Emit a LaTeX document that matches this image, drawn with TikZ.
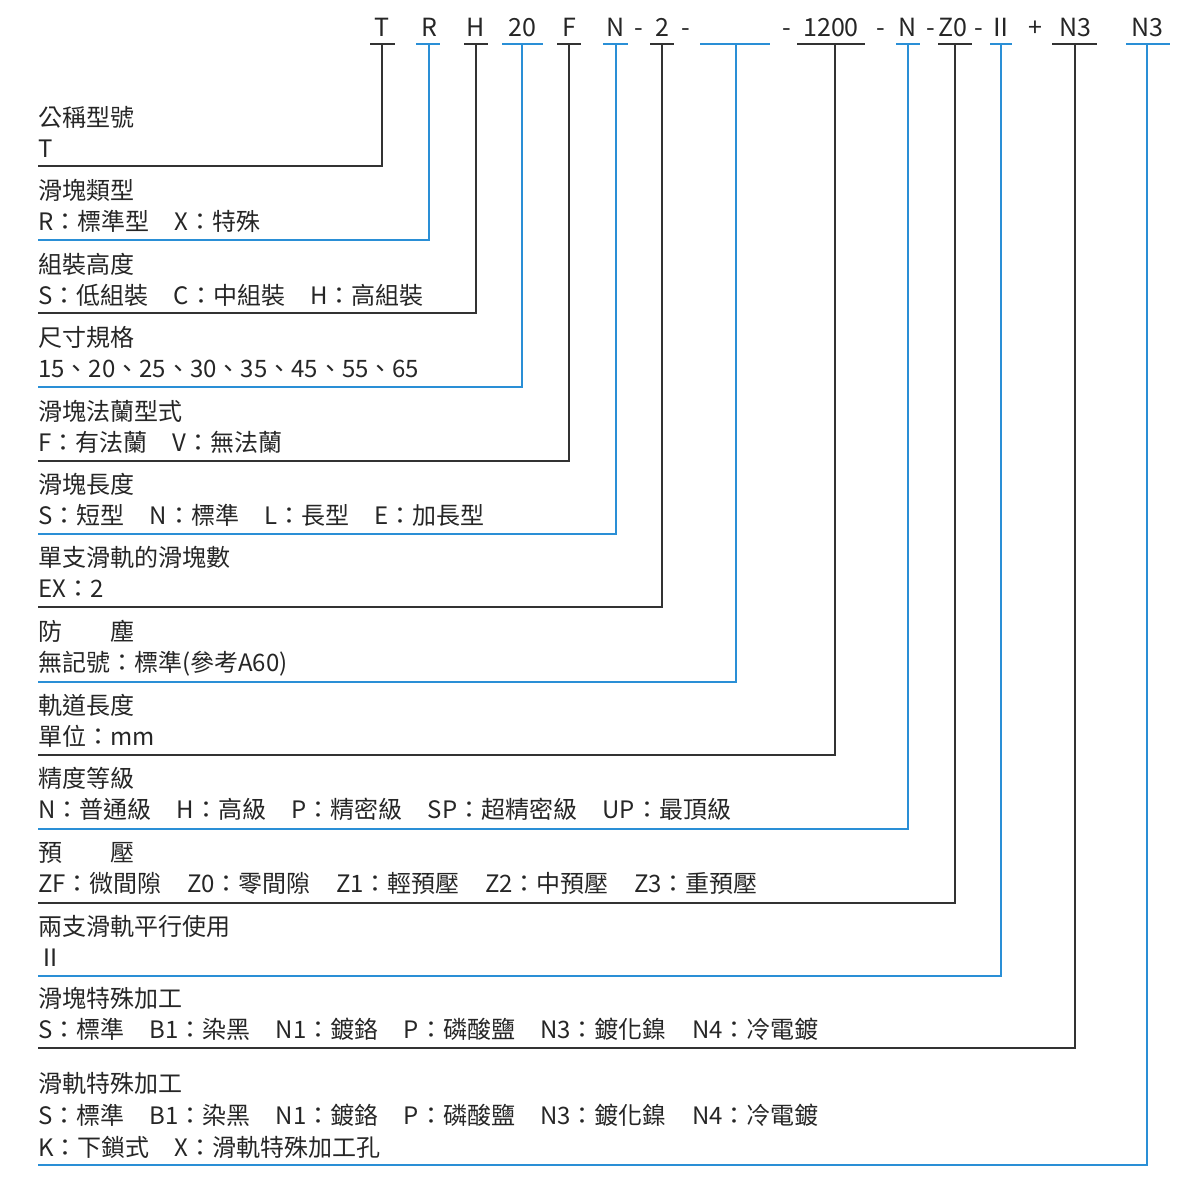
\documentclass[tikz,border=0pt]{standalone}
\usepackage{fontspec}
\setmainfont{Noto Sans CJK TC}
\begin{document}
\begin{tikzpicture}[x=1pt,y=-1pt,
  txt/.style={anchor=base west,inner sep=0pt,font=\fontsize{24}{26}\selectfont,text=black!85},
  code/.style={anchor=base,inner sep=0pt,font=\fontsize{25}{28}\selectfont,text=black!85},
  bk/.style={draw=black!80,line width=1.3pt},
  bl/.style={draw=lineblue,line width=1.3pt}]
\definecolor{lineblue}{HTML}{2A8FD6}
\useasboundingbox (0,0) rectangle (1188,1200);
\newcommand{\gp}{\hspace{1.05em}}
% top codes
\foreach \x/\t in {382/T,429/R,476/H,522/20,569/F,616/N,639/-,662/2,686/-,787/-,831/1200,881/-,908/N,931/-,953/Z0,979/-,1001/Ⅱ,1035/+,1075/N3,1147/N3}
  \node[code] at (\x,36) {\t};
% groups: x, left, right, y, style
\foreach \n/\x/\l/\r/\y/\s in {a/382/370/395/166/bk,b/429/416/440/240/bl,c/476/464/488/313/bk,d/522/502/543/387/bl,e/569/557/581/461/bk,f/616/603/628/534/bl,g/662/650/674/607/bk,h/736/700/770/682/bl,i/835/797/865/755/bk,j/908/896/920/829/bl,k/955/938/972/903/bk,l/1001/990/1012/976/bl,m/1075/1052/1097/1048/bk,o/1147/1126/1170/1165/bl}{
  \coordinate (u\n) at (\x,44);
  \coordinate (c\n) at (\x,\y);
  \coordinate (e\n) at (38,\y);
  \draw[\s] (\l,44) -- (\r,44);
  \draw[\s] (u\n) -- (c\n) -- (e\n);
}
\node[txt] (t1) at (38,126) {公稱型號};
\node[txt] (t1b) at (38,157) {T};
\node[txt] (t2) at (38,199) {滑塊類型};
\node[txt] (t2b) at (38,230) {R：標準型\gp X：特殊};
\node[txt] (t3) at (38,273) {組裝高度};
\node[txt] (t3b) at (38,304) {S：低組裝\gp C：中組裝\gp H：高組裝};
\node[txt] (t4) at (38,346) {尺寸規格};
\node[txt] (t4b) at (38,377) {15、20、25、30、35、45、55、65};
\node[txt] (t5) at (38,420) {滑塊法蘭型式};
\node[txt] (t5b) at (38,451) {F：有法蘭\gp V：無法蘭};
\node[txt] (t6) at (38,493) {滑塊長度};
\node[txt] (t6b) at (38,524) {S：短型\gp N：標準\gp L：長型\gp E：加長型};
\node[txt] (t7) at (38,566) {單支滑軌的滑塊數};
\node[txt] (t7b) at (38,597) {EX：2};
\node[txt] (t8) at (38,640) {防\hspace{2em}塵};
\node[txt] (t8b) at (38,671) {無記號：標準(參考A60)};
\node[txt] (t9) at (38,714) {軌道長度};
\node[txt] (t9b) at (38,745) {單位：mm};
\node[txt] (t10) at (38,787) {精度等級};
\node[txt] (t10b) at (38,818) {N：普通級\gp H：高級\gp P：精密級\gp SP：超精密級\gp UP：最頂級};
\node[txt] (t11) at (38,861) {預\hspace{2em}壓};
\node[txt] (t11b) at (38,892) {ZF：微間隙\gp Z0：零間隙\gp Z1：輕預壓\gp Z2：中預壓\gp Z3：重預壓};
\node[txt] (t12) at (38,935) {兩支滑軌平行使用};
\node[txt] (t12b) at (38,966) {Ⅱ};
\node[txt] (t13) at (38,1007) {滑塊特殊加工};
\node[txt] (t13b) at (38,1038) {S：標準\gp B1：染黑\gp N1：鍍鉻\gp P：磷酸鹽\gp N3：鍍化鎳\gp N4：冷電鍍};
\node[txt] (t14) at (38,1092) {滑軌特殊加工};
\node[txt] (t14b) at (38,1124) {S：標準\gp B1：染黑\gp N1：鍍鉻\gp P：磷酸鹽\gp N3：鍍化鎳\gp N4：冷電鍍};
\node[txt] (t14c) at (38,1156) {K：下鎖式\gp X：滑軌特殊加工孔};
\end{tikzpicture}
\end{document}
